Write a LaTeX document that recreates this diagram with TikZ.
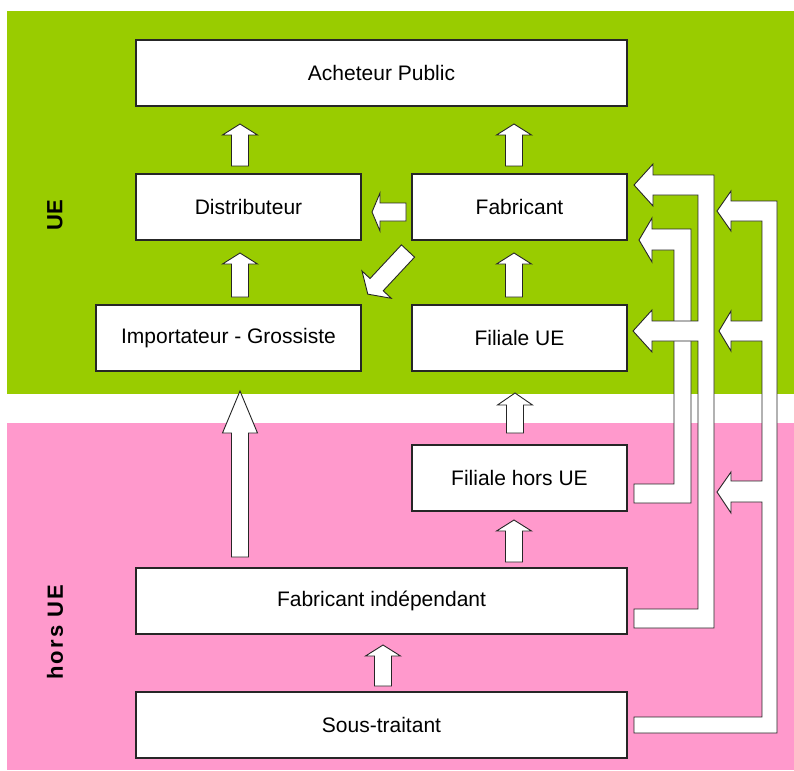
\documentclass[tikz,border=0pt]{standalone}
\usepackage{fontspec}
\setmainfont{Liberation Sans}
\definecolor{ueg}{HTML}{99CC00}
\definecolor{hup}{HTML}{FF99CC}
\newcommand\uparrowblk[4]{% x, ybot, ytip, head length
  \draw[blk] ({#1-8.5},#2) -- ({#1-8.5},{#3+#4}) -- ({#1-17.5},{#3+#4}) -- (#1,#3)
    -- ({#1+17.5},{#3+#4}) -- ({#1+8.5},{#3+#4}) -- ({#1+8.5},#2) -- cycle;}
\begin{document}
\begin{tikzpicture}[x=1pt,y=-1pt,
  box/.style={draw=black!85, line width=1.4pt, fill=white, minimum height=66pt,
    inner sep=0pt, font=\fontsize{21}{25}\selectfont},
  blk/.style={draw=black!85, line width=0.9pt, fill=white, line join=miter},
  side/.style={font=\bfseries\fontsize{22}{26}\selectfont, rotate=90}]
\useasboundingbox (0,0) rectangle (794,770);
\fill[ueg] (7,11) rectangle (794,394);
\fill[hup] (7,423) rectangle (794,770);
\node[side] (ue) at (55,215) {UE};
\node[side] (hue) at (55,632) {\addfontfeature{LetterSpace=10}hors UE};
% boxes
\node[box, minimum width=491pt] (ach) at (381.5,73) {Acheteur Public};
\node[box, minimum width=225pt] (dist) at (248.5,207) {Distributeur};
\node[box, minimum width=215pt] (fab) at (519.5,207) {Fabricant};
\node[box, minimum width=265pt] (imp) at (228.5,338) {Importateur - Grossiste};
\node[box, minimum width=215pt] (fil) at (519.5,338) {Filiale UE};
\node[box, minimum width=215pt] (filh) at (519.5,478) {Filiale hors UE};
\node[box, minimum width=491pt] (fabi) at (381.5,601) {Fabricant indépendant};
\node[box, minimum width=491pt] (sous) at (381.5,725) {Sous-traitant};
% vertical block arrows
\uparrowblk{240}{166}{124}{11}
\uparrowblk{514}{166}{124}{11}
\uparrowblk{240}{297}{253}{11}
\uparrowblk{514}{297}{253}{11}
\uparrowblk{515}{433}{393}{12}
\uparrowblk{514}{562}{520}{11}
\uparrowblk{383}{686}{645}{11}
\uparrowblk{240}{557}{391}{42}
% Fabricant -> Distributeur
\draw[blk] (406,203) -- (380,203) -- (380,193) -- (372,212) -- (380,231) -- (380,221) -- (406,221) -- cycle;
% Fabricant -> Importateur (diagonal)
\begin{scope}[shift={(408,251)}, rotate=-133, x=1pt, y=1pt]
  \draw[blk] (0,-9) -- (46,-9) -- (46,-20) -- (59,0) -- (46,20) -- (46,9) -- (0,9) -- cycle;
\end{scope}
% B: Filiale hors UE -> Fabricant
\draw[blk] (634,484) -- (674,484) -- (674,250) -- (652,250) -- (652,262) -- (639,240)
  -- (652,218) -- (652,229) -- (691,229) -- (691,503) -- (634,503) -- cycle;
% A: Fabricant independant -> Fabricant, Filiale UE
\draw[blk] (634,609) -- (698,609) -- (698,341) -- (652,341) -- (652,352) -- (633,331)
  -- (652,310) -- (652,321) -- (698,321) -- (698,195) -- (653,195) -- (653,206)
  -- (634,185) -- (653,164) -- (653,175) -- (714,175) -- (714,628) -- (634,628) -- cycle;
% C: Sous-traitant -> Fabricant, Filiale UE, Filiale hors UE
\draw[blk] (634,717) -- (762,717) -- (762,502) -- (731,502) -- (731,513) -- (717,492)
  -- (731,472) -- (731,481) -- (762,481) -- (762,341) -- (731,341) -- (731,351)
  -- (719,331) -- (731,311) -- (731,321) -- (762,321) -- (762,221) -- (731,221)
  -- (731,231) -- (717,211) -- (731,191) -- (731,201) -- (777,201) -- (777,733)
  -- (634,733) -- cycle;
\end{tikzpicture}
\end{document}
